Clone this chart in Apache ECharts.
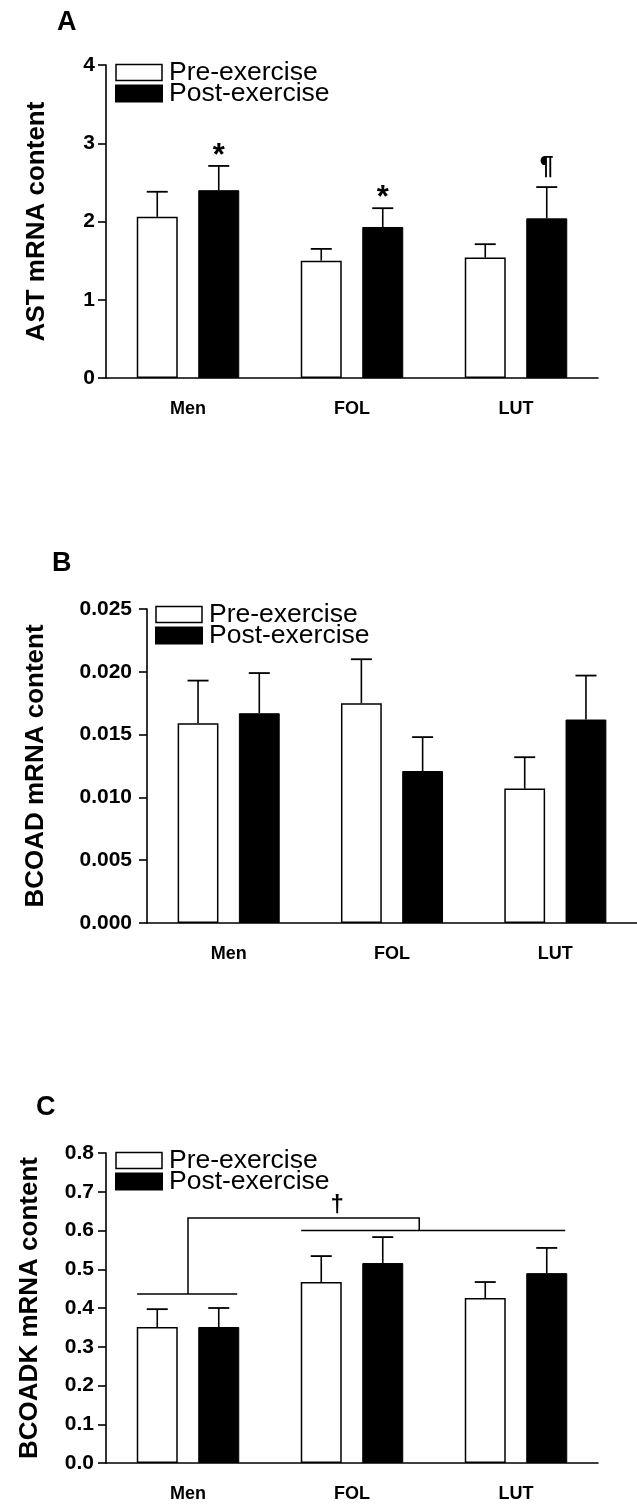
<!DOCTYPE html>
<html>
<head>
<meta charset="utf-8">
<script src="https://cdn.jsdelivr.net/npm/echarts@6/dist/echarts.min.js"></script>
<style>
  html, body { margin: 0; padding: 0; background: #fff; }
  #chart { width: 637px; height: 1512px; }
</style>
</head>
<body>
<div id="chart"></div>
<script>
// Groups on the x axis
const categories = ['Men', 'FOL', 'LUT'];
const seriesNames = ['Pre-exercise', 'Post-exercise'];

// Panel A: AST mRNA content (mean, upper SE)
const astPre = [2.06, 1.50, 1.54];
const astPreErr = [0.32, 0.15, 0.17];
const astPost = [2.40, 1.93, 2.04];
const astPostErr = [0.31, 0.24, 0.40];
const astPostMarks = ['*', '*', '\u00B6'];

// Panel B: BCOAD mRNA content
const bcoadPre = [0.0159, 0.0175, 0.0107];
const bcoadPreErr = [0.0034, 0.0035, 0.0025];
const bcoadPost = [0.0167, 0.0121, 0.0162];
const bcoadPostErr = [0.0032, 0.0027, 0.0035];

// Panel C: BCOADK mRNA content
const bcoadkPre = [0.351, 0.467, 0.426];
const bcoadkPreErr = [0.046, 0.067, 0.041];
const bcoadkPost = [0.351, 0.516, 0.490];
const bcoadkPostErr = [0.049, 0.067, 0.065];

// Group-comparison bracket in panel C: [category position, value] polylines
const bracketLines = [
  [[-0.31, 0.436], [0.30, 0.436]],
  [[0, 0.436], [0, 0.632], [1.41, 0.632], [1.41, 0.600]],
  [[0.69, 0.600], [2.30, 0.600]]
];
const bracketMark = { text: '\u2020', pos: [0.91, 0.634] };

const FONT = '"Liberation Sans", Arial, Helvetica, sans-serif';
const BAR_FRAC = 0.25;           // bar width as a fraction of the category band
const BAR_GAP = 0.5;             // gap between the pair, fraction of bar width
const OFFSET = BAR_FRAC * (1 + BAR_GAP) / 2;   // bar centre offset from band centre

const panels = [
  { grid: { left: 106, top: 65, width: 492, height: 313 },
    max: 4, interval: 1, dec: 0, labelMargin: 11, name: 'AST mRNA content', nameGap: 56,
    pre: astPre, preErr: astPreErr, post: astPost, postErr: astPostErr,
    postMarks: astPostMarks, legend: { left: 115, top: 59 },
    letter: { text: 'A', x: 57, y: 9 } },
  { grid: { left: 147, top: 609, width: 492, height: 314 },
    max: 0.025, interval: 0.005, dec: 3, labelMargin: 15, name: 'BCOAD mRNA content', nameGap: 98,
    pre: bcoadPre, preErr: bcoadPreErr, post: bcoadPost, postErr: bcoadPostErr,
    postMarks: null, legend: { left: 155, top: 601 },
    letter: { text: 'B', x: 52, y: 550 } },
  { grid: { left: 106, top: 1153, width: 492, height: 310 },
    max: 0.8, interval: 0.1, dec: 1, labelMargin: 12, name: 'BCOADK mRNA content', nameGap: 63,
    pre: bcoadkPre, preErr: bcoadkPreErr, post: bcoadkPost, postErr: bcoadkPostErr,
    postMarks: null, legend: { left: 115, top: 1147 },
    letter: { text: 'C', x: 36, y: 1094 } }
];

function errorBarSeries(idx, values, errs, marks, side) {
  return {
    type: 'custom',
    xAxisIndex: idx, yAxisIndex: idx,
    z: 5,
    silent: true,
    encode: { x: 0, y: 1 },
    data: values.map((v, i) => [i, v, errs[i]]),
    renderItem: function (params, api) {
      const ci = api.value(0), v = api.value(1), e = api.value(2);
      const mark = marks ? marks[params.dataIndex] : '';
      const band = api.size([1, 0])[0];
      const base = api.coord([ci, v]);
      const x = base[0] + side * band * OFFSET;
      const yTop = api.coord([ci, v + e])[1];
      const children = [
        { type: 'line', shape: { x1: x, y1: base[1], x2: x, y2: yTop },
          style: { stroke: '#000', lineWidth: 1.6 } },
        { type: 'line', shape: { x1: x - 10.5, y1: yTop, x2: x + 10.5, y2: yTop },
          style: { stroke: '#000', lineWidth: 1.8 } }
      ];
      if (mark) {
        const isStar = mark === '*';
        children.push({ type: 'text',
          style: { text: mark, x: x, y: yTop - (isStar ? -6 : 7),
                   align: 'center', verticalAlign: 'bottom',
                   font: 'bold ' + (isStar ? 31 : 25) + 'px ' + FONT, fill: '#000' } });
      }
      return { type: 'group', children: children };
    }
  };
}

function bracketSeries(idx) {
  return {
    type: 'custom',
    xAxisIndex: idx, yAxisIndex: idx,
    z: 6,
    silent: true,
    encode: { x: 0, y: 1 },
    data: [[0, 0]],
    renderItem: function (params, api) {
      const band = api.size([1, 0])[0];
      const c0 = api.coord([0, 0])[0];
      const pt = (p) => [c0 + p[0] * band, api.coord([0, p[1]])[1]];
      const children = bracketLines.map(line => ({
        type: 'polyline',
        shape: { points: line.map(pt) },
        style: { stroke: '#000', lineWidth: 1.5, fill: null }
      }));
      const mp = pt(bracketMark.pos);
      children.push({ type: 'text',
        style: { text: bracketMark.text, x: mp[0], y: mp[1], align: 'center',
                 verticalAlign: 'bottom', font: 'bold 24px ' + FONT, fill: '#000' } });
      return { type: 'group', children: children };
    }
  };
}

const option = {
  backgroundColor: '#fff',
  animation: false,
  textStyle: { fontFamily: FONT },
  graphic: panels.map(p => ({
    type: 'text', left: p.letter.x, top: p.letter.y, silent: true,
    style: { text: p.letter.text, font: 'bold 27px ' + FONT, fill: '#000' }
  })),
  grid: panels.map(p => Object.assign({ containLabel: false }, p.grid)),
  legend: panels.map(p => ({
    data: [
      { name: seriesNames[0], itemStyle: { color: '#fff', borderColor: '#000', borderWidth: 1.5 } },
      { name: seriesNames[1], itemStyle: { color: '#000' } }
    ],
    orient: 'vertical',
    left: p.legend.left, top: p.legend.top,
    icon: 'rect',
    itemWidth: 46, itemHeight: 16, itemGap: -6,
    padding: 0,
    selectedMode: false,
    textStyle: { fontSize: 26.5, color: '#000', fontFamily: FONT, padding: [0, 0, 0, 2] }
  })),
  xAxis: panels.map((p, i) => ({
    type: 'category', gridIndex: i, data: categories,
    axisLine: { lineStyle: { color: '#000', width: 1.6 } },
    axisTick: { show: false },
    axisLabel: { color: '#000', fontSize: 18, fontWeight: 'bold', margin: 22, fontFamily: FONT }
  })),
  yAxis: panels.map((p, i) => ({
    type: 'value', gridIndex: i, min: 0, max: p.max, interval: p.interval,
    name: p.name, nameLocation: 'middle', nameGap: p.nameGap, nameRotate: 90,
    nameTextStyle: { fontSize: 26, fontWeight: 'bold', color: '#000', fontFamily: FONT },
    splitLine: { show: false },
    axisLine: { show: true, lineStyle: { color: '#000', width: 1.6 } },
    axisTick: { show: true, length: 8, lineStyle: { color: '#000', width: 1.6 } },
    axisLabel: { color: '#000', fontSize: 21, fontWeight: 'bold', margin: p.labelMargin, fontFamily: FONT,
                 formatter: v => v.toFixed(p.dec) }
  })),
  series: []
};

panels.forEach((p, i) => {
  option.series.push({
    name: seriesNames[0], type: 'bar', xAxisIndex: i, yAxisIndex: i,
    data: p.pre, barWidth: (BAR_FRAC * 100) + '%', barGap: (BAR_GAP * 100) + '%',
    itemStyle: { color: '#fff', borderColor: '#000', borderWidth: 1.5 }
  });
  option.series.push({
    name: seriesNames[1], type: 'bar', xAxisIndex: i, yAxisIndex: i,
    data: p.post, barWidth: (BAR_FRAC * 100) + '%', barGap: (BAR_GAP * 100) + '%',
    itemStyle: { color: '#000', borderColor: '#000', borderWidth: 1 }
  });
  option.series.push(errorBarSeries(i, p.pre, p.preErr, null, -1));
  option.series.push(errorBarSeries(i, p.post, p.postErr, p.postMarks, 1));
});
option.series.push(bracketSeries(2));

const chart = echarts.init(document.getElementById('chart'), null, { renderer: 'canvas' });
chart.setOption(option);
</script>
</body>
</html>
